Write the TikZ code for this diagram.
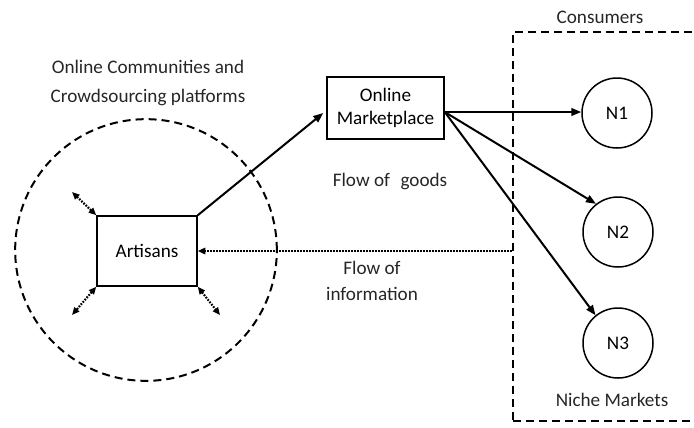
\documentclass[tikz,border=0pt]{standalone}
\usepackage{fontspec}
\setmainfont{Carlito}
\usetikzlibrary{arrows.meta,calc}
\begin{document}
\begin{tikzpicture}[x=0.6pt,y=-0.6pt,
  font=\fontsize{11.5}{14}\selectfont,
  txt/.style={text=black!85, inner sep=0pt, align=center},
  box/.style={draw, line width=0.9pt, inner sep=0pt, align=center},
  market/.style={draw, circle, line width=0.9pt, minimum size=42pt, inner sep=0pt},
  goods/.style={line width=1.2pt, -{Triangle[length=6pt,width=4.6pt]}},
  info/.style={line width=1.3pt, dash pattern=on 1pt off 0.8pt},
  infotip/.style={-{Triangle[length=4.5pt,width=3.8pt]}},
  bothtips/.style={{Triangle[length=4.5pt,width=3.8pt]}-{Triangle[length=4.5pt,width=3.8pt]}},
  frame/.style={draw, line width=1.2pt, dash pattern=on 4.8pt off 3pt}]
\useasboundingbox (0,0) rectangle (694,427);
\clip (0,0) rectangle (694,427);

% communities and consumer regions
\node[frame, circle, minimum size=157pt, inner sep=0pt] (comm) at (146,250) {};
\node[frame, minimum width=124.2pt, minimum height=233.4pt, inner sep=0pt] (cons) at (616.5,226.5) {};

% main actors
\node[box, fill=white, minimum width=60pt, minimum height=42pt] (art) at (147,251) {Artisans};
\node[box, minimum width=70.2pt, minimum height=37.2pt] (mk) at (385.5,108) {Online\\Marketplace};

% niche markets
\node[market] (n1) at (617,113) {N1};
\node[market] (n2) at (618,232) {N2};
\node[market] (n3) at (618,343) {N3};

% labels
\node[txt] (lcomm) at (148,83) {Online Communities and\\[3pt]Crowdsourcing platforms};
\node[txt] (lcons) at (600,17) {Consumers};
\node[txt] (lniche) at (612,400) {Niche Markets};
\node[txt] (lgoods) at (390,181) {Flow of\hspace{0.55em}goods};
\node[txt] (linfo) at (372,281) {Flow of\\[2pt]information};

% flow of goods
\coordinate (mkout) at ($(mk.east)+(0,4)$);
\coordinate (mkin) at ($(mk.west)+(-3,5)$);
\draw[goods] (art.north east) -- (mkin);
\draw[goods] (mkout) -- (n1.west |- mkout);
\draw[goods] (mkout) -- (n2.128);
\draw[goods] (mkout) -- (n3.129);

% flow of information
\draw[info, infotip] (art.east -| cons.west) -- (art.east);

% exchanges within the communities
\coordinate (ctl) at (72,192);
\coordinate (cbl) at (72,315);
\coordinate (cbr) at (220,315);
\draw[info, bothtips] (art.north west) -- (ctl);
\draw[info, bothtips] (art.south west) -- (cbl);
\draw[info, bothtips] (art.south east) -- (cbr);
\end{tikzpicture}
\end{document}
